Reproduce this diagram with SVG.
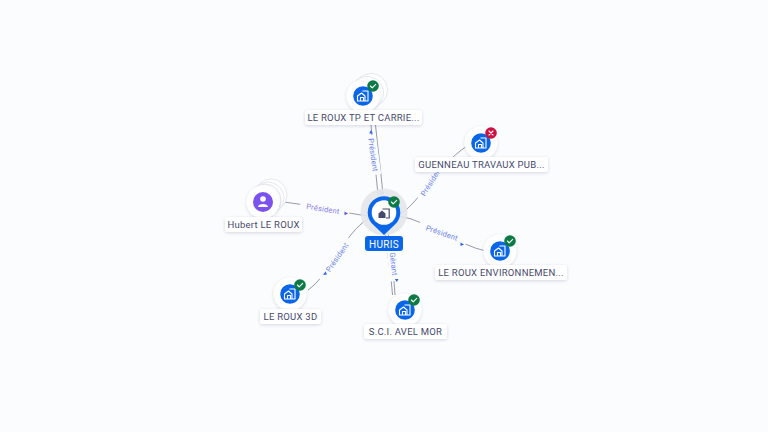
<svg xmlns="http://www.w3.org/2000/svg" width="768" height="432" viewBox="0 0 768 432">
<style>
.lbl{font-family:Roboto,"Liberation Sans",sans-serif;font-size:9.5px;letter-spacing:.25px;fill:#45496e;text-anchor:middle}
.box{fill:#fff;filter:url(#s)}
.halo{fill:#fff;stroke:#e6e8ee;stroke-width:1}
.disc{fill:#fff;filter:url(#s)}
.blue{fill:#0a66e8}
.ok{fill:#0c7a45}
.no{fill:#cf0f3f}
.tick{fill:none;stroke:#fff;stroke-width:1.1;stroke-linecap:round;stroke-linejoin:round}
.ico{fill:none;stroke:#fff;stroke-width:1.1;stroke-linejoin:round}
.edge{fill:none;stroke:#7c8098;stroke-width:.8}
.et{font-family:Roboto,"Liberation Sans",sans-serif;font-size:7.5px;letter-spacing:.2px;fill:#6d85f0;text-anchor:middle}
.ar{fill:#2f5fe6}
</style>
<defs>
<filter id="s" x="-30%" y="-50%" width="160%" height="200%"><feDropShadow dx="0" dy="1" stdDeviation="1.5" flood-color="#3a4170" flood-opacity=".2"/></filter>
<g id="co"><path class="ico" d="M-5.500 5V0L-1.500-3 2 0V5ZM-2.500 5V1.500H.5V5M-.5-5H5V5H2"/></g>
<g id="okb"><circle r="5.800" class="ok"/><path class="tick" d="M-2.600 0-.8 1.900 2.700-1.700"/></g>
<g id="nob"><circle r="5.800" class="no"/><path class="tick" d="M-2-2 2 2M2-2-2 2"/></g>
</defs>
<rect width="768" height="432" fill="#fafcfe"/>
<g id="connectors">
<path class="edge" d="M378 195C376 172 373 150 371 125"/>
<path class="edge" d="M383 195C381 172 378 150 375.500 125"/>
<path class="edge" d="M399 214C416 208 434 168 467 146"/>
<path class="edge" d="M400 216C430 222 460 246 486 251"/>
<path class="edge" d="M388 232C390 250 394 275 395 295"/>
<path class="edge" d="M385 232C387 250 391 275 392.500 295"/>
<path class="edge" d="M368 219C345 232 330 275 308 290"/>
<path class="edge" d="M284 202C310 205 340 212 367 216"/>
<g fill="#fafcfe"><rect x="-20" y="-5" width="40" height="10" transform="translate(373.500 155) rotate(82)"/><rect x="-21" y="-6" width="42" height="12" transform="translate(431 181) rotate(-58)"/><rect x="-25" y="-6" width="50" height="12" transform="translate(443 233) rotate(19)"/><rect x="-20" y="-6" width="40" height="12" transform="translate(394 261) rotate(84)"/><rect x="-25" y="-6" width="50" height="12" transform="translate(335 259) rotate(-55)"/><rect x="-25" y="-6" width="50" height="12" transform="translate(325 208) rotate(10)"/></g>
<text class="et" transform="translate(373.500 155) rotate(82)" dy="3">Président</text>
<text class="et" transform="translate(431 181) rotate(-58)" dy="3">Président</text>
<text class="et" transform="translate(442 232.500) rotate(19)" dy="3">Président</text>
<text class="et" transform="translate(394 264) rotate(84)" dy="3">Gérant</text>
<text class="et" transform="translate(337 257) rotate(-55)" dy="3">Président</text>
<text class="et" transform="translate(323 208.500) rotate(9)" dy="3" style="fill:#8a7cec">Président</text>
<text class="et" transform="translate(382 193) rotate(85)" dy="3">A</text>
<path class="ar" d="M371 130 372.800 133.500H369.200Z"/>
<path class="ar" d="M464 244.500 460.500 246V242.500Z"/>
<path class="ar" d="M396.700 282 395 279H398.500Z"/>
<path class="ar" d="M323 275 325.500 271.500 327 274.500Z"/>
<path class="ar" d="M348 213.500 344.500 215.300V211.500Z" style="fill:#6a4fe0"/>
</g>
<g id="node-tp">
<circle class="halo" cx="371" cy="90" r="16.500"/><circle class="halo" cx="367" cy="93" r="16.500"/><circle class="disc" cx="363" cy="96" r="16.500"/>
<circle class="blue" cx="363" cy="96" r="9.800"/><use href="#co" x="363" y="96"/><use href="#okb" x="373" y="86"/>
<rect class="box" x="305" y="110" width="117" height="15" rx="3"/><text class="lbl" x="363.500" y="120.800">LE ROUX TP ET CARRIE...</text></g>
<g id="node-guenneau">
<circle class="disc" cx="481" cy="143" r="16.500"/><circle class="blue" cx="481" cy="143" r="9.800"/><use href="#co" x="481" y="143"/><use href="#nob" x="491" y="133"/>
<rect class="box" x="415" y="157" width="133" height="15" rx="3"/><text class="lbl" x="481.500" y="167.800">GUENNEAU TRAVAUX PUB...</text></g>
<g id="node-env">
<circle class="disc" cx="500" cy="251" r="16.500"/><circle class="blue" cx="500" cy="251" r="9.800"/><use href="#co" x="500" y="251"/><use href="#okb" x="510" y="241"/>
<rect class="box" x="435" y="265" width="132" height="15" rx="3"/><text class="lbl" x="501" y="275.800">LE ROUX ENVIRONNEMEN...</text></g>
<g id="node-avel">
<circle class="disc" cx="405" cy="310" r="16.500"/><circle class="blue" cx="405" cy="310" r="9.800"/><use href="#co" x="405" y="310"/><use href="#okb" x="414" y="300"/>
<rect class="box" x="364" y="324" width="83" height="15" rx="3"/><text class="lbl" x="405.500" y="334.800">S.C.I. AVEL MOR</text></g>
<g id="node-3d">
<circle class="disc" cx="290" cy="294" r="16.500"/><circle class="blue" cx="290" cy="294" r="9.800"/><use href="#co" x="290" y="294"/><use href="#okb" x="300" y="285"/>
<rect class="box" x="260" y="309" width="61" height="15" rx="3"/><text class="lbl" x="290.500" y="319.800">LE ROUX 3D</text></g>
<g id="node-hubert">
<circle class="halo" cx="271" cy="195" r="16"/><circle class="halo" cx="268" cy="198" r="16"/><circle class="halo" cx="265" cy="200" r="16"/><circle class="disc" cx="263" cy="202" r="16.500"/>
<circle cx="263" cy="202" r="10" fill="#7b52ee"/><circle cx="263" cy="199" r="2.800" fill="#fff"/><path d="M258 207C258 203 268 203 268 207Z" fill="#fff"/>
<rect class="box" x="225" y="217" width="77" height="15" rx="3"/><text class="lbl" x="263.500" y="227.800">Hubert LE ROUX</text></g>
<g id="node-huris">
<circle cx="384" cy="212" r="23.500" fill="#e3e5e9" opacity=".9"/>
<path class="blue" d="M384 235 372.500 224A16.300 16.300 0 1 1 395.500 224Z"/>
<circle cx="384" cy="212.500" r="12.300" fill="#fff"/>
<g transform="translate(384 213)"><path d="M-5.500 5V.500L-2-2.500 1.500.500V5Z" fill="#45496e"/><path d="M-1.500-4H5.200V5H2" fill="none" stroke="#45496e" stroke-width="1.200"/></g>
<use href="#okb" x="394" y="202"/>
<rect class="blue" x="365" y="236" width="38" height="15" rx="3"/><text x="384" y="247.500" font-family="Roboto,sans-serif" font-size="10" letter-spacing=".3" fill="#fff" text-anchor="middle">HURIS</text></g>
</svg>
